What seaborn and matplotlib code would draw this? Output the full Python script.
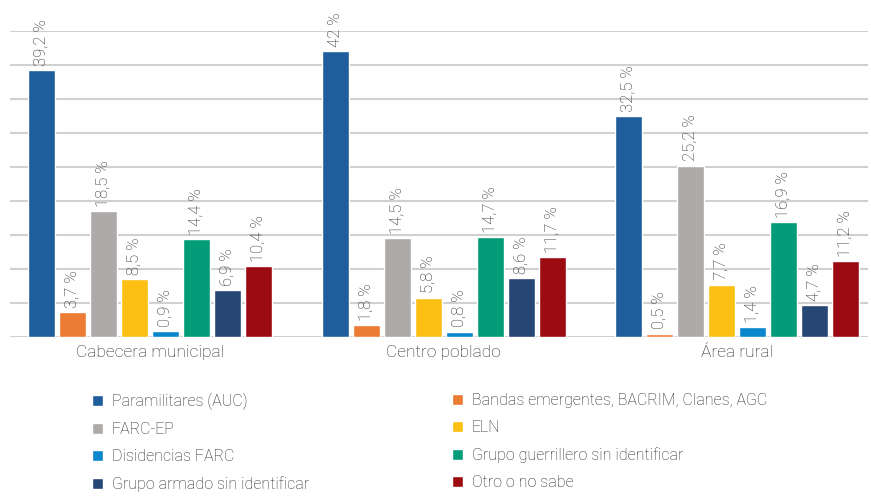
import pandas as pd
import matplotlib.pyplot as plt
import seaborn as sns

zonas = ["Cabecera municipal", "Centro poblado", "Área rural"]
grupos = ["Paramilitares (AUC)", "Bandas emergentes, BACRIM, Clanes, AGC",
          "FARC-EP", "ELN", "Disidencias FARC", "Grupo guerrillero sin identificar",
          "Grupo armado sin identificar", "Otro o no sabe"]
cabecera = [39.2, 3.7, 18.5, 8.5, 0.9, 14.4, 6.9, 10.4]
centro = [42, 1.8, 14.5, 5.8, 0.8, 14.7, 8.6, 11.7]
rural = [32.5, 0.5, 25.2, 7.7, 1.4, 16.9, 4.7, 11.2]
colores = ["#205d9c", "#ec7b33", "#aeaaa9", "#fcbf14",
           "#0a86cd", "#039c78", "#264674", "#9c0b12"]

rows = []
for zona, vals in zip(zonas, [cabecera, centro, rural]):
    for g, v in zip(grupos, vals):
        rows.append({"zona": zona, "grupo": g, "valor": v})
df = pd.DataFrame(rows)

sns.set_style("white")
plt.rcParams["font.family"] = ["Roboto", "DejaVu Sans"]
gris = "#262626"

fig = plt.figure(figsize=(8.71, 4.96), dpi=100)
ax = fig.add_axes([0.0115, 0.3206, 0.985, 0.617])
sns.barplot(data=df, x="zona", y="valor", hue="grupo", order=zonas, hue_order=grupos,
            palette=colores, saturation=1, width=0.845, gap=0.13, ax=ax)

for cont in ax.containers:
    ax.bar_label(cont, labels=[f"{b.get_height():g}".replace(".", ",") + " %" for b in cont],
                 rotation=90, padding=3, fontsize=12, color=gris, fontweight="light")

ax.set_ylim(0, 45)
ax.set_xlim(-0.477, 2.446)
ax.set_yticks(range(0, 46, 5))
ax.set_yticklabels([])
ax.yaxis.grid(True, color="#d0d0d0", linewidth=1.5)
ax.set_axisbelow(True)
sns.despine(ax=ax, left=True, bottom=True)
ax.tick_params(axis="both", length=0)
ax.tick_params(axis="x", pad=6, labelsize=12.5, labelcolor=gris)
for t in ax.get_xticklabels():
    t.set_fontweight("light")
ax.set_xlabel("")
ax.set_ylabel("")

# leyenda en dos columnas, cada una como leyenda aparte
handles, labels = ax.get_legend_handles_labels()
ax.get_legend().remove()
opts = dict(loc="upper left", bbox_transform=fig.transFigure, frameon=False,
            handlelength=0.7, handleheight=0.7, handletextpad=0.55,
            labelspacing=0.76, borderpad=0, borderaxespad=0,
            prop={"weight": "light", "size": 11.5})
col1 = ax.legend([handles[i] for i in [0, 2, 4, 6]], [labels[i] for i in [0, 2, 4, 6]],
                 bbox_to_anchor=(92 / 871, 1 - 393 / 496), **opts)
ax.add_artist(col1)
col2 = ax.legend([handles[i] for i in [1, 3, 5, 7]], [labels[i] for i in [1, 3, 5, 7]],
                 bbox_to_anchor=(452 / 871, 1 - 393 / 496), **opts)
for leg in (col1, col2):
    for t in leg.get_texts():
        t.set_color(gris)

fig.savefig("out.png", dpi=100)
